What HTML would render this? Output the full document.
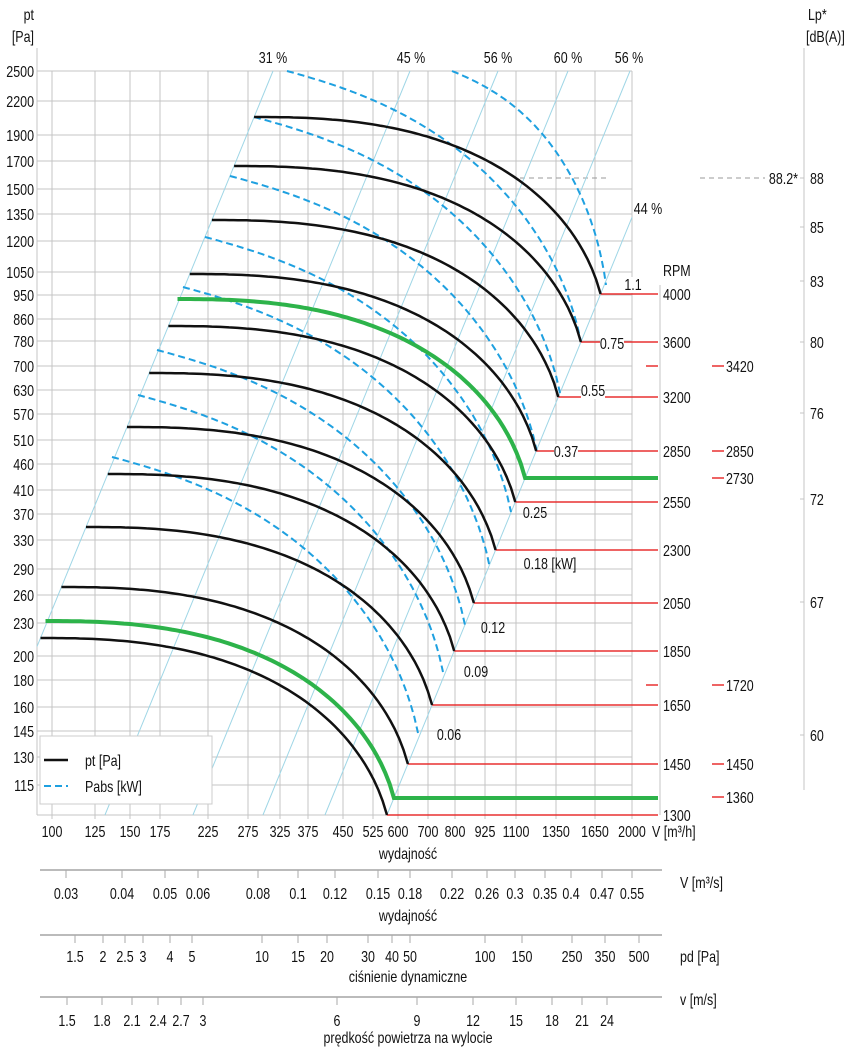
<!DOCTYPE html>
<html><head><meta charset="utf-8"><style>
html,body{margin:0;padding:0;background:#fff;}
svg{display:block;}
text{font-family:"Liberation Sans Narrow","Liberation Sans",sans-serif;font-size:16px;fill:#111;}
</style></head><body>
<svg id="s" width="850" height="1048" viewBox="0 0 850 1048" xmlns="http://www.w3.org/2000/svg">
<g id="grid" stroke="#c4c4c4" stroke-width="1"></g>
<g id="diag" stroke="#9fd6e6" stroke-width="1"></g>
<g id="dash" fill="none" stroke="#1ea0e0" stroke-width="2" stroke-dasharray="7,4"></g>
<g id="red" stroke="#e83030" stroke-width="1.5"></g>
<g id="curves" fill="none"></g>
<g id="txt"></g>
</svg>
<script>
var NS="http://www.w3.org/2000/svg";
function el(p,t,a,tx){var e=document.createElementNS(NS,t);for(var k in a)e.setAttribute(k,a[k]);if(tx!==undefined)e.textContent=tx;document.getElementById(p).appendChild(e);return e;}
function T(x,y,s,anchor,size){var a={x:0,y:0,transform:"translate("+x+","+y+") scale(0.78,1)"};if(anchor)a["text-anchor"]=anchor;if(size)a["font-size"]=size;el("txt","text",a,s);}
var L=37,R=632,TOP=71,B=815;
var ys=[[2500,71],[2200,101],[1900,135],[1700,161],[1500,189],[1350,214],[1200,241],[1050,272],[950,295],[860,319],[780,341],[700,366],[630,390],[570,414],[510,440],[460,464],[410,490],[370,514],[330,540],[290,569],[260,595],[230,623],[200,656],[180,680],[160,707],[145,731],[130,757],[115,785]];
ys.forEach(function(v){el("grid","line",{x1:L,x2:R,y1:v[1],y2:v[1]});T(34,v[1]+6,v[0],"end");});
el("grid","line",{x1:L,x2:R,y1:B,y2:B});
el("grid","line",{x1:L,x2:L,y1:48,y2:B});
var xs=[[100,52],[125,95],[150,130],[175,160],[225,208],[275,248],[325,280],[375,308],[450,343],[525,373],[600,398],[700,428],[800,455],[925,485],[1100,516],[1350,556],[1650,595],[2000,632]];
xs.forEach(function(v){el("grid","line",{x1:v[1],x2:v[1],y1:TOP,y2:B+4});T(v[1],837,v[0],"middle");});
el("grid","line",{x1:660,x2:660,y1:285,y2:815});
T(652,837,"V [m³/h]","start",15);
T(408,859,"wydajność","middle");
var k=0.41;
[273,410,498,568,630,692].forEach(function(x0){
 var y1=TOP,x1=x0; if(x0>R){y1=TOP+(x0-R)/k;x1=R;}
 var x2=x0-k*(B-TOP),y2=B; if(x2<L){x2=L;y2=TOP+(x0-L)/k;}
 el("diag","line",{x1:x1,y1:y1,x2:x2,y2:y2});
});
function sh(t){return (1-Math.sqrt(Math.max(0,1-0.96*Math.pow(t,2.5))))/0.8;}
function curve(xs_,ys_,xe,ye,f){var d="";for(var i=0;i<=80;i++){var t=i/80;var x=xs_+(xe-xs_)*t;var y=ys_+(ye-ys_)*f(t);d+=(i?"L":"M")+x.toFixed(1)+","+y.toFixed(1);}return d;}
function x31(y){return 273-k*(y-TOP);} function x44(y){return 692-k*(y-TOP);}
var D=[[452,71,606,285],[287,71,581,342],[254,117,560,393],[230,176,537,452],[205,237,511,512],[183,287,490,568],[157,350,465,625],[138,395,443,672],[112,457,418,733]];
D.forEach(function(d){el("dash","path",{d:curve(d[0],d[1],d[2],d[3],function(t){return 0.3*t+0.7*sh(t);})});});
var C=[[117,294],[166,342],[220,397],[274,451],[326,502],[373,550],[427,603],[474,651],[527,705],[587,764],[638,815]];
C.forEach(function(c){var xs_=Math.max(L,x31(c[0])),xe=x44(c[1]);
 el("red","line",{x1:xe,x2:658,y1:c[1],y2:c[1]});
 el("curves","path",{d:curve(xs_,c[0],xe,c[1],sh),stroke:"#111","stroke-width":2.5});});
[[299,478],[621,798]].forEach(function(c){var xs_=Math.max(L,x31(c[0])-2),xe=x44(c[1]);
 el("curves","path",{d:curve(xs_,c[0],xe,c[1],sh)+"L658,"+c[1],stroke:"#2db34a","stroke-width":4});});
[["1.1",633,290],["0.75",612,349],["0.55",593,396],["0.37",566,457]].forEach(function(p){el("txt","rect",{x:p[1]-12,y:p[2]-13,width:24,height:16,fill:"#fff"});T(p[1],p[2],p[0],"middle");});
T(535,518,"0.25","middle");T(550,569,"0.18   [kW]","middle");T(493,633,"0.12","middle");T(476,677,"0.09","middle");T(449,740,"0.06","middle");
[[4000,294],[3600,342],[3200,397],[2850,451],[2550,502],[2300,550],[2050,603],[1850,651],[1650,705],[1450,764],[1300,815]].forEach(function(r){T(663,r[1]+6,r[0]);});
T(663,276,"RPM");
[[3420,366],[2850,451],[2730,478],[1720,685],[1450,764],[1360,797]].forEach(function(r){el("red","line",{x1:712,x2:724,y1:r[1],y2:r[1]});T(726,r[1]+6,r[0]);});
[366,685].forEach(function(y){el("red","line",{x1:646,x2:658,y1:y,y2:y});});
el("grid","line",{x1:804,x2:804,y1:48,y2:790});
[[88,178],[85,227],[83,281],[80,342],[76,413],[72,499],[67,602],[60,735]].forEach(function(v){el("grid","line",{x1:800,x2:804,y1:v[1],y2:v[1]});T(810,v[1]+6,v[0]);});
el("grid","line",{x1:520,x2:607,y1:178,y2:178,"stroke-dasharray":"5,4",stroke:"#999"});
el("grid","line",{x1:700,x2:765,y1:178,y2:178,"stroke-dasharray":"5,4",stroke:"#999"});
T(798,184,"88.2*","end");
T(273,63,"31 %","middle");T(411,63,"45 %","middle");T(498,63,"56 %","middle");T(568,63,"60 %","middle");T(629,63,"56 %","middle");T(648,214,"44 %","middle");
T(34,20,"pt","end");T(34,42,"[Pa]","end");T(808,20,"Lp*");T(806,42,"[dB(A)]");
el("txt","rect",{x:40,y:736,width:172,height:68,fill:"#fff",stroke:"#ccc"});
el("txt","line",{x1:44,x2:68,y1:760,y2:760,stroke:"#111","stroke-width":2.5});
el("txt","line",{x1:44,x2:68,y1:786,y2:786,stroke:"#1ea0e0","stroke-width":2,"stroke-dasharray":"7,4"});
T(85,766,"pt [Pa]");T(85,792,"Pabs [kW]");
function axis(y,ticks,labY,name,unitY,title,titleY){
 el("grid","line",{x1:40,x2:662,y1:y,y2:y,stroke:"#bbb","stroke-width":2});
 ticks.forEach(function(t){el("grid","line",{x1:t[1],x2:t[1],y1:y,y2:y+8,stroke:"#aaa"});T(t[1],labY,t[0],"middle");});
 T(680,unitY,name);T(408,titleY,title,"middle");
}
axis(870,[["0.03",66],["0.04",122],["0.05",165],["0.06",198],["0.08",258],["0.1",298],["0.12",335],["0.15",378],["0.18",410],["0.22",452],["0.26",487],["0.3",515],["0.35",545],["0.4",571],["0.47",602],["0.55",632]],899,"V  [m³/s]",888,"wydajność",921);
axis(935,[["1.5",75],["2",103],["2.5",125],["3",143],["4",170],["5",192],["10",262],["15",298],["20",327],["30",368],["40",392],["50",410],["100",485],["150",522],["250",572],["350",605],["500",639]],962,"pd  [Pa]",962,"ciśnienie dynamiczne",982);
axis(997,[["1.5",67],["1.8",102],["2.1",132],["2.4",158],["2.7",181],["3",203],["6",337],["9",417],["12",473],["15",516],["18",552],["21",582],["24",607]],1026,"v  [m/s]",1005,"prędkość powietrza na wylocie",1043);
</script>
</body></html>
